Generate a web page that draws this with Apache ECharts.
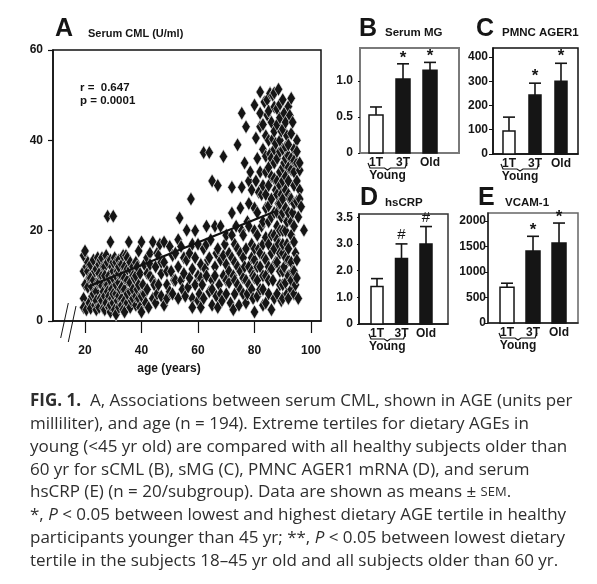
<!DOCTYPE html>
<html><head><meta charset="utf-8">
<script src="https://cdn.jsdelivr.net/npm/echarts@6/dist/echarts.min.js"></script>
<style>html,body{margin:0;padding:0;background:#fff}#c{width:597px;height:584px}</style>
</head><body><div id="c"></div>
<script>
// ---------- Panel A: serum CML vs age ----------
const cmlPoints = [
[19.5,14.5],[19.5,11],[19.5,5],[19.5,3],[20,15.5],[20,8],[20.5,2.5],[20.5,12],[21,11],[21,7.5],[21,13],[21.5,4],[21.5,9.5],[22,2.8],[22,9.5],
[22,12.5],[22.5,5.5],[22.5,7.5],[23,9],[23,13.5],[23,6],[23.5,3.5],[23.5,11],[24,6.5],[24,11.5],[24,4.5],[24,2.5],[24.5,14],[24.5,8.5],
[25,3],[25,8.5],[25,12.5],[25,10.5],[25.5,5],[25.5,13.5],[26,10],[26,14],[26,7.8],[26,4.5],[26.5,6.5],[26.5,2.8],[26.5,12],
[27,12],[27,5.5],[27,10],[27,2.5],[27.5,4],[27.5,8],[27.5,14.5],[28,13],[28,23.2],[28,8],[28,6.5],[28.5,10],[28.5,5.5],[28.5,3],
[29,2],[29,17.5],[29,3.5],[29,9],[29,13.5],[29.5,7],[29.5,12],[29.5,5],[30,23.2],[30,9.5],[30,4],[30,6],[30,11],[30,13],[30.5,14],[30.5,2.5],
[31,1.5],[31,6],[31,8],[31,13],[31,10],[31.5,11],[31.5,4.5],[32,3],[32,8.5],[32,13.5],[32,5.5],[32,10.5],[32,12],[32.5,7],
[33,5],[33,10],[33,7.5],[33,12.5],[33,3.5],[33.5,2.5],[33.5,14.5],[34,7],[34,12],[34,4.5],[34,9.5],[34,2],[34.5,14.5],
[35,4],[35,9],[35,6],[35,11.5],[35,14],[35.5,17.5],[36,3],[36,6.5],[36,11.5],[36,8.5],[36,13],[36.5,4.5],[37,5],[37,7],[37,12],[37,10],
[37.5,9.5],[38,13],[38,3.5],[38,10],[38,5.5],[38.5,7],[38.5,12],[39,15.5],[39,5],[39,8],[39.5,10.5],[39.5,3],
[40,2],[40,5.5],[40,17.5],[40.5,8],[41,12.5],[41,6],[41.5,4],[42,14],[42,7],[42,10.5],[42.5,3],[43,10],[43,15],[43,12.5],[44,5],[44,17.5],
[44,9],[44.5,8],[45,12],[45,4],[45.5,6],[45.5,15],[46,14.5],[46,8],[46.5,17],[47,5.5],[47,10.5],[47,13],[48,17.5],[48,13],[48,3.5],
[49,5],[49,8],[49,11],[50,16.5],[50,6.5],[50.5,11],[51,6],[51,14.5],[51.5,9],[52,9],[52,15],[53,5],[53,12],[53,18],[53.5,22.8],[54,16.5],
[54,9],[54.5,7],[55,10.5],[55,14],[55.5,5.5],[56,13.5],[56,20.1],[56.5,7.5],[57,9.5],[57,15],[57.5,27],[58,5],[58,11.5],[58,17],[58,3],
[59,8],[59,14],[59,20],[60,4.5],[60,10],[60,17],[60.5,6],[61,12.5],[61,9.5],[61,3],[61.5,8],[62,16],[62,5],[62,37.3],[62.5,11.5],
[63,10],[63,21],[63,17],[63.5,13.5],[64,37.3],[64,6.5],[64,14],[64.5,18],[65,3.5],[65,9],[65,31],[65,7],[66,12],[66,21],[66,10],
[66.5,5.5],[66.5,15],[67,16],[67,30],[67,3],[67.5,8],[68,13.5],[68,21],[68,6],[68.5,4.5],[69,36.4],[69,10],[69,14.5],[69.5,17],
[70,6],[70,12.5],[70,9],[70,19],[71,8.5],[71,15],[71,11],[71.5,4],[72,19],[72,23.9],[72,29.6],[72,14],[72.5,10],[72.5,2.5],
[73,6],[73,13],[73,9],[73,17],[73.5,21],[74,8],[74,16],[74,39],[74,12],[74.5,3.5],[75,11],[75,25],[75,7],[75,15],[75.5,29.6],[75.5,46],
[75.5,20],[76,6],[76,14],[76,19],[76,9.5],[76.5,35],[76.5,12],[77,43],[77,9],[77,4],[77,16],[77.5,22],[77.5,6],[78,12],[78,26],[78,31],
[78,21],[78,8],[78.5,33],[79,7],[79,17],[79,29],[79,14],[79,11],[79.5,10],[79.5,5],[80,2],[80,13.5],[80,20],[80,47.8],[80,16],[80,9.5],
[80,25],[80.5,40.5],[80.5,31],[81,5.5],[81,9],[81,24],[81,36],[81,12],[81,19],[81.5,16],[81.5,28.5],[82,12],[82,43],[82,50.7],[82,7],
[82,15],[82,33],[82,46],[82.5,21],[82.5,28],[83,7],[83,3.5],[83,43.5],[83,38],[83,10],[83,17],[83,22],[83,30],[83.5,14],[83.5,48.5],
[84,10],[84,18.5],[84,25],[84,33],[84,41],[84,4],[84,13.5],[84,28],[84,36.5],[84.5,45.6],[84.5,49],[85,6],[85,12],[85,22],[85,30],
[85,40],[85,34],[85,9],[85,17],[85,25.5],[85,46.5],[85.5,37],[85.5,50.4],[86,2.5],[86,15],[86,27],[86,32],[86,44],[86,11.5],[86,19],
[86,23],[86,36],[86.5,9],[86.5,40.3],[86.5,50],[87,19],[87,24],[87,35],[87,47.4],[87,42],[87,5],[87,16],[87,31.5],[87,38],[87,50.5],
[87.5,13],[87.5,29],[87.5,39.3],[88,6],[88,21],[88,31],[88,43.5],[88,36],[88,13],[88,18],[88,24],[88,28],[88,47],[88.5,17],[88.5,26],
[88.5,51.3],[89,11],[89,33],[89,37.5],[89,45],[89,40],[89,48],[89,8],[89,15],[89,20],[89,26],[89,30],[89.5,4.5],[89.5,23],[89.5,28],
[89.5,42],[90,8],[90,15],[90,20],[90,31],[90,42.5],[90,38],[90,5],[90,11],[90,17],[90,24],[90,27],[90,34],[90,49],[90.5,12],[90.5,35],
[90.5,46],[91,25],[91,29],[91,38.5],[91,32],[91,44],[91,8.5],[91,14],[91,20],[91,36],[91.5,6],[91.5,17],[91.5,22],[91.5,41],[92,10],
[92,13.5],[92,31],[92,36.6],[92,34],[92,5],[92,16],[92,24],[92,28],[92,39],[92,47.5],[92.5,27],[92.5,45.5],[93,7],[93,19],[93,33.5],
[93,41.5],[93,49.3],[93,9],[93,13],[93,22],[93,27],[93,36],[93.5,11],[93.5,24],[93.5,44],[94,30],[94,38],[94,33],[94,6],[94,11],
[94,17.5],[94,21],[94,26],[94,35.5],[94.5,15],[94.5,8],[95,35],[95,26.5],[95,40],[95,13.5],[95,9.5],[95,31],[95,37.5],[95.5,5],
[95.5,23],[96,33.4],[96,29],[96,27],[96,35],[96.5,25.3],[97.5,20.1]
];
const regressionLine = [[21, 7.6], [87, 24.2]];
const ageTicks = [20, 40, 60, 80, 100];
const cmlTicks = [0, 20, 40, 60];

// ---------- Panels B–E: group means with SEM ----------
const groups = ['1T', '3T', 'Old'];
const groupPos = [1, 2, 3];
const youngGroups = [1, 2];

const mgMean = [0.53, 1.03, 1.15];
const mgSem  = [0.11, 0.21, 0.11];
const mgMark = ['', '*', '*'];
const mgTicks = [0, 0.5, 1.0];
const mgTickLabels = ['0', '0.5', '1.0'];

const agerMean = [95, 243, 300];
const agerSem  = [57, 49, 74];
const agerMark = ['', '*', '*'];
const agerTicks = [0, 100, 200, 300, 400];
const agerTickLabels = ['0', '100', '200', '300', '400'];

const crpMean = [1.4, 2.45, 3.0];
const crpSem  = [0.3, 0.55, 0.65];
const crpMark = ['', '#', '#'];
const crpTicks = [0, 1, 2, 3, 4];
const crpTickLabels = ['0', '1.0', '2.0', '3.0', '3.5'];

const vcamMean = [700, 1410, 1570];
const vcamSem  = [80, 290, 390];
const vcamMark = ['', '*', '*'];
const vcamTicks = [0, 500, 1000, 1500, 2000];
const vcamTickLabels = ['0', '500', '1000', '1500', '2000'];

const FONT = '"Liberation Sans", Arial, sans-serif';
const INK = '#151515';

const panels = [
  {grid:{left:360, top:48, width:99, height:105}, border:'#7a7a7a', bw:2, axisColor:'#7a7a7a',
   xmin:0.407, xmax:4.074, ymax:1.46, ticks:mgTicks, labels:mgTickLabels, lm:7, tl:2,
   mean:mgMean, sem:mgSem, mark:mgMark, barW:14, capW:12, markFont:'bold 17px '+FONT, markGap:6},
  {grid:{left:493, top:48, width:85, height:106}, border:'#111', bw:1.5, axisColor:'#111',
   xmin:0.385, xmax:3.654, ymax:437, ticks:agerTicks, labels:agerTickLabels, lm:5, tl:4,
   mean:agerMean, sem:agerSem, mark:agerMark, barW:12, capW:12, markFont:'bold 17px '+FONT, markGap:7},
  {grid:{left:359, top:214, width:89, height:110}, border:'#333', bw:1.5, axisColor:'#111',
   xmin:0.265, xmax:3.898, ymax:4.12, ticks:crpTicks, labels:crpTickLabels, lm:6, tl:2,
   mean:crpMean, sem:crpSem, mark:crpMark, barW:12, capW:12, markFont:'15px '+FONT, markGap:9},
  {grid:{left:488, top:213, width:90, height:110}, border:'#666', bw:1.5, axisColor:'#222',
   xmin:0.269, xmax:3.73, ymax:2157, ticks:vcamTicks, labels:vcamTickLabels, lm:2, tl:3,
   mean:vcamMean, sem:vcamSem, mark:vcamMark, barW:14, capW:12, markFont:'bold 17px '+FONT, markGap:6}
];

const grids = [{left:53, top:50, width:268, height:271, show:true, borderColor:'#111', borderWidth:1.5}];
const xAxes = [{
  gridIndex:0, type:'value', min:8.67, max:103.54,
  axisLine:{show:true, lineStyle:{color:'#111', width:1.5}},
  axisTick:{show:true, length:12, customValues:ageTicks, lineStyle:{color:'#111', width:1.2}},
  axisLabel:{customValues:ageTicks, margin:24, color:INK, fontFamily:FONT, fontWeight:'bold', fontSize:12},
  splitLine:{show:false}
}];
const yAxes = [{
  gridIndex:0, type:'value', min:0, max:60,
  axisLine:{show:true, lineStyle:{color:'#111', width:1.5}},
  axisTick:{show:true, length:5, customValues:cmlTicks, lineStyle:{color:'#111', width:1.2}},
  axisLabel:{customValues:cmlTicks, margin:10, color:INK, fontFamily:FONT, fontWeight:'bold', fontSize:12},
  splitLine:{show:false}
}];
const series = [
  {type:'scatter', xAxisIndex:0, yAxisIndex:0, data:cmlPoints, symbol:'diamond', symbolSize:[8.5,14],
   itemStyle:{color:INK, opacity:1, borderColor:'#f4f4f4', borderWidth:0.6}, silent:true},
  {type:'line', xAxisIndex:0, yAxisIndex:0, data:regressionLine, symbol:'none',
   lineStyle:{color:'#111', width:2.2}, z:5}
];

panels.forEach((p, k) => {
  const gi = k + 1;
  grids.push(Object.assign({show:true, borderColor:p.border, borderWidth:p.bw}, p.grid));
  xAxes.push({gridIndex:gi, type:'value', min:p.xmin, max:p.xmax,
    axisLine:{show:true, lineStyle:{color:p.axisColor, width:p.bw}},
    axisTick:{show:false},
    axisLabel:{customValues:groupPos, formatter:v => groups[Math.round(v)-1], margin:4,
      color:INK, fontFamily:FONT, fontWeight:'bold', fontSize:12},
    splitLine:{show:false}});
  yAxes.push({gridIndex:gi, type:'value', min:0, max:p.ymax,
    axisLine:{show:true, lineStyle:{color:p.axisColor, width:p.bw}},
    axisTick:{show:true, length:p.tl, customValues:p.ticks, lineStyle:{color:'#111'}},
    axisLabel:{customValues:p.ticks, formatter:v => p.labels[p.ticks.indexOf(v)] ?? '', margin:p.lm,
      color:INK, fontFamily:FONT, fontWeight:'bold', fontSize:12},
    splitLine:{show:false}});
  const data = groupPos.map((x, i) => [x, p.mean[i], p.mean[i] + p.sem[i]]);
  series.push({type:'custom', xAxisIndex:gi, yAxisIndex:gi, data, clip:false,
    renderItem:(params, api) => {
      const i = params.dataIndex;
      const x = api.value(0);
      const b = api.coord([x, 0]), t = api.coord([x, api.value(1)]), e = api.coord([x, api.value(2)]);
      const w = p.barW, c = p.capW / 2;
      const ch = [
        {type:'line', shape:{x1:b[0], y1:t[1], x2:b[0], y2:e[1]}, style:{stroke:INK, lineWidth:1.6}},
        {type:'line', shape:{x1:b[0]-c, y1:e[1], x2:b[0]+c, y2:e[1]}, style:{stroke:INK, lineWidth:1.6}},
        {type:'rect', shape:{x:b[0]-w/2, y:t[1], width:w, height:b[1]-t[1]},
         style:{fill: i === 0 ? '#fff' : INK, stroke:INK, lineWidth:1.5}}
      ];
      if (p.mark[i]) ch.push({type:'text', x:b[0], y:e[1]-p.markGap,
        style:{text:p.mark[i], align:'center', verticalAlign:'middle', font:p.markFont, fill:INK}});
      return {type:'group', children:ch};
    }});
  series.push({type:'custom', xAxisIndex:gi, yAxisIndex:gi, data:[youngGroups], clip:false,
    renderItem:(params, api) => {
      const a = api.coord([api.value(0), 0]), b = api.coord([api.value(1), 0]);
      const xl = a[0] - 8, xr = b[0] + 4, mid = (xl + xr) / 2, y0 = a[1];
      return {type:'group', children:[
        {type:'polyline', shape:{points:[[xl,y0+10],[xl+2,y0+15],[mid-3,y0+15],[mid,y0+17],[mid+3,y0+15],[xr-2,y0+15],[xr,y0+10]]},
         style:{stroke:INK, lineWidth:1.2, fill:null}},
        {type:'text', x:mid, y:y0+23, style:{text:'Young', align:'center', verticalAlign:'middle',
         font:'bold 12px '+FONT, fill:INK}}
      ]};
    }});
});

function txt(x, y, text, font, extra) {
  return Object.assign({type:'text', x, y, style:{text, font, fill:INK, verticalAlign:'middle'}}, extra || {});
}
const CAP = '"Open Sans", "Noto Sans", sans-serif';
const CS = 17;
const CAPC = '#2e2e2e';
const capRich = {b:{fontWeight:'bold', fontSize:CS, fontFamily:CAP, fill:CAPC},
                 i:{fontStyle:'italic', fontSize:CS, fontFamily:CAP, fill:CAPC},
                 s:{fontSize:13, fontFamily:CAP, fill:CAPC}};
const captionLines = [
  '{b|FIG. 1.}  A, Associations between serum CML, shown in AGE (units per',
  'milliliter), and age (n = 194). Extreme tertiles for dietary AGEs in',
  'young (<45 yr old) are compared with all healthy subjects older than',
  '60 yr for sCML (B), sMG (C), PMNC AGER1 mRNA (D), and serum',
  'hsCRP (E) (n = 20/subgroup). Data are shown as means ± {s|SEM}.',
  '*, {i|P} < 0.05 between lowest and highest dietary AGE tertile in healthy',
  'participants younger than 45 yr; **, {i|P} < 0.05 between lowest dietary',
  'tertile in the subjects 18–45 yr old and all subjects older than 60 yr.'
];
const graphics = [
  txt(55, 29, 'A', 'bold 25px '+FONT),
  txt(88, 34, 'Serum CML (U/ml)', 'bold 11px '+FONT),
  txt(359, 29, 'B', 'bold 25px '+FONT),
  txt(385, 33, 'Serum MG', 'bold 11.5px '+FONT),
  txt(476, 29, 'C', 'bold 25px '+FONT),
  txt(502, 33, 'PMNC AGER1', 'bold 11.5px '+FONT),
  txt(360, 198, 'D', 'bold 25px '+FONT),
  txt(385, 203, 'hsCRP', 'bold 11.5px '+FONT),
  txt(478, 198, 'E', 'bold 25px '+FONT),
  txt(505, 203, 'VCAM-1', 'bold 11.5px '+FONT),
  txt(80, 88, 'r =  0.647', 'bold 11.5px '+FONT),
  txt(80, 101, 'p = 0.0001', 'bold 11.5px '+FONT),
  {type:'text', x:169, y:369, style:{text:'age (years)', font:'bold 12px '+FONT, fill:INK, align:'center', verticalAlign:'middle'}},
  {type:'line', shape:{x1:60.7, y1:338, x2:68.3, y2:303}, style:{stroke:INK, lineWidth:1}},
  {type:'line', shape:{x1:68.3, y1:342, x2:76, y2:306}, style:{stroke:INK, lineWidth:1}}
];
captionLines.forEach((line, k) => {
  graphics.push({type:'text', x:30, y:401 + k * 22.9,
    style:{text:line, rich:capRich, font:CS + 'px ' + CAP, fill:CAPC, verticalAlign:'middle'}});
});

const chart = echarts.init(document.getElementById('c'), null, {renderer:'canvas'});
chart.setOption({
  animation:false,
  backgroundColor:'#fff',
  grid:grids, xAxis:xAxes, yAxis:yAxes, series, graphic:graphics
});
</script></body></html>
